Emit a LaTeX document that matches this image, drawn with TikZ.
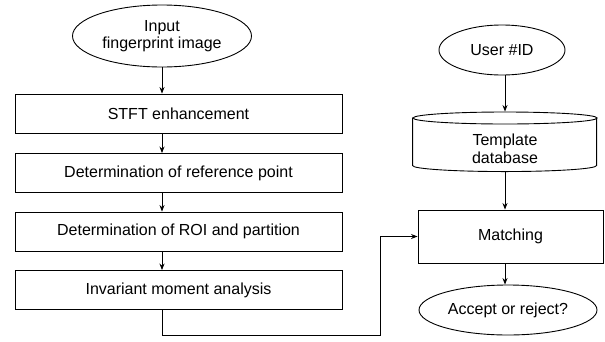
\documentclass[tikz,border=0pt]{standalone}
\usepackage{fontspec}
\setmainfont{Liberation Sans}
\usetikzlibrary{shapes.geometric,arrows.meta,calc}
\tikzset{
  base/.style={font=\fontsize{16}{17.5}\selectfont, line width=0.9pt},
  proc/.style={draw, rectangle, minimum width=327pt, minimum height=39pt, inner sep=0pt},
  term/.style={draw, ellipse, inner sep=0pt, align=center},
  arr/.style={-{Stealth[length=6.5pt,width=5pt]}, line width=0.9pt},
  plain/.style={inner sep=0pt, align=center}
}
\begin{document}
\begin{tikzpicture}[x=1pt,y=-1pt,base]
\fill[white] (0,0) rectangle (605,341);
\useasboundingbox (0,0) rectangle (605,341);

% left column
\node[term, minimum width=179pt, minimum height=62pt] (in) at (162,36) {Input\\fingerprint image};
\node[proc] (b1) at (178.5,113.5) {STFT enhancement};
\node[proc] (b2) at (178.5,173) {Determination of reference point};
\node[proc] (b3) at (178.5,231.5) {Determination of ROI and partition};
\node[proc] (b4) at (178.5,290) {Invariant moment analysis};

\draw[arr] (in.south) -- (in.south |- b1.north);
\draw[arr] (b1.south -| in.south) -- (b2.north -| in.south);
\draw[arr] (b2.south -| in.south) -- (b3.north -| in.south);
\draw[arr] (b3.south -| in.south) -- (b4.north -| in.south);

% right column
\node[term, minimum width=126pt, minimum height=50pt] (user) at (502,50) {User \#ID};
\node[plain, minimum width=184pt, minimum height=60pt] (db) at (505,142) {};
\node[plain] (dbt) at (505,149) {Template\\database};
\draw (505,118) ellipse [x radius=92pt, y radius=6pt];
\draw (db.north west) ++(0,6) -- ++(0,48) arc[start angle=180, end angle=360, x radius=92pt, y radius=6pt] -- ++(0,-48);
\node[proc, minimum width=185pt, minimum height=53pt] (match) at (510.5,236.5) {Matching};
\node[term, minimum width=178pt, minimum height=50pt] (acc) at (508,310) {Accept or reject?};

\draw[arr] (user.south -| db.north) -- (db.north);
\draw[arr] (db.south) -- (db.south |- match.north);
\draw[arr] (match.south -| db.south) -- (acc.north -| db.south);

% connector to matching
\coordinate (c1) at (380,335);
\draw[arr] (b4.south -| in.south) |- (c1) |- (match.west);
\end{tikzpicture}
\end{document}
